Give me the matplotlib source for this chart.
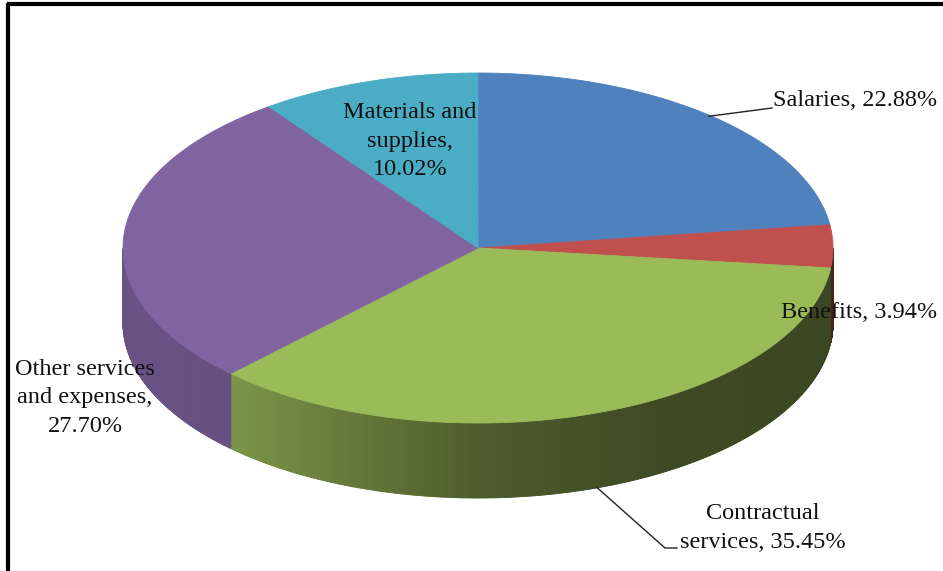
import numpy as np
import matplotlib
matplotlib.use("Agg")
import matplotlib.pyplot as plt
from matplotlib.patches import Polygon

# data
labels = ["Salaries", "Benefits", "Contractual\nservices", "Other services\nand expenses", "Materials and\nsupplies"]
shares = [22.88, 3.94, 35.45, 27.70, 10.02]
colors = ["#4f81bd", "#c0504d", "#9bbb59", "#8064a2", "#4bacc6"]

# geometry of the tilted pie (pixels)
cx, cy = 478, 248
rx, ry = 355, 175
depth = 75

fig = plt.figure(figsize=(9.43, 5.71), dpi=100)
ax = fig.add_axes([0, 0, 1, 1])
ax.set_xlim(0, 943)
ax.set_ylim(571, 0)
ax.axis("off")


def pt(a, dy=0):
    r = np.radians(a)
    return cx + rx * np.cos(r), cy - ry * np.sin(r) + dy


def shade(a):
    c = np.cos(np.radians(a))
    return np.interp(c, [-1, -0.7, 0, 0.5, 1], [0.82, 0.80, 0.50, 0.40, 0.38])


# slice angles, clockwise from 12 o'clock
bounds = 90 - 3.6 * np.concatenate([[0], np.cumsum(shares)])

# side walls (front half only)
for i, col in enumerate(colors):
    a0, a1 = bounds[i], bounds[i + 1]  # a0 > a1
    rgb = np.array(matplotlib.colors.to_rgb(col))
    # visible when sin(angle) < 0
    angs = np.linspace(a1, a0, 400)
    vis = np.sin(np.radians(angs)) < 0
    angs = angs[vis]
    if len(angs) < 2:
        continue
    for j in range(len(angs) - 1):
        b0, b1 = angs[j], angs[j + 1] + 0.05
        x0, y0 = pt(b0)
        x1, y1 = pt(b1)
        poly = [(x0, y0), (x1, y1), (x1, y1 + depth), (x0, y0 + depth)]
        c = np.clip(rgb * shade((b0 + b1) / 2), 0, 1)
        ax.add_patch(Polygon(poly, closed=True, facecolor=c, edgecolor=c, lw=0.6))

# top faces
for i, col in enumerate(colors):
    a0, a1 = bounds[i], bounds[i + 1]
    angs = np.linspace(a0, a1, 200)
    xs, ys = pt(angs)
    poly = [(cx, cy)] + list(zip(xs, ys))
    ax.add_patch(Polygon(poly, closed=True, facecolor=col, edgecolor=col, lw=0.6))

# labels
font = dict(family="Liberation Serif", fontsize=17.5, color="#111111", linespacing=1.45)
txt = [f"{l}, {s:.2f}%" for l, s in zip(labels, shares)]
txt[3] = "Other services\nand expenses,\n27.70%"
txt[4] = "Materials and\nsupplies,\n10.02%"

ax.text(773, 101, txt[0], ha="left", va="center", **font)
ax.text(781, 313, txt[1], ha="left", va="center", **font)
ax.text(763, 528, txt[2], ha="center", va="center", multialignment="center", **font)
ax.text(85, 398, txt[3], ha="center", va="center", multialignment="center", **font)
ax.text(410, 141, txt[4], ha="center", va="center", multialignment="center", **font)

# leader lines
m0 = (bounds[0] + bounds[1]) / 2
sx, sy = pt(m0)
ax.plot([sx - 3, 772], [sy, 108], color="#222222", lw=1)
m2 = (bounds[2] + bounds[3]) / 2
lx, ly = pt(m2, depth)
ax.plot([lx, 665, 677], [ly, 548, 548], color="#222222", lw=1)

# frame
ax.plot([8, 8], [3, 571], color="black", lw=3, solid_capstyle="butt")
ax.plot([7, 943], [4, 4], color="black", lw=3, solid_capstyle="butt")

fig.savefig("out.png", dpi=100)
